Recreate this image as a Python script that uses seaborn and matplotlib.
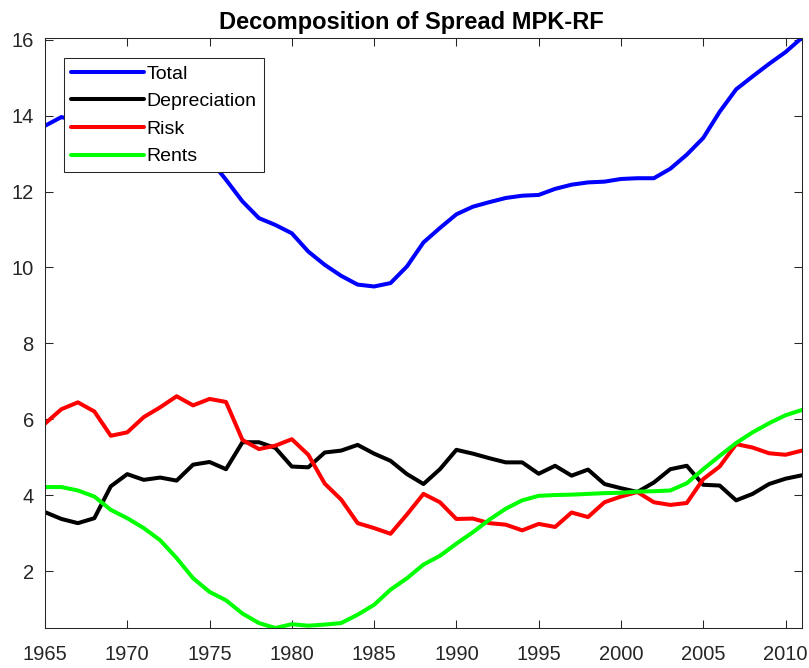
import numpy as np
import pandas as pd
import matplotlib
matplotlib.use("Agg")
import matplotlib.pyplot as plt
import seaborn as sns

# Values, one per year
years = list(range(1965, 2012))

total = [13.73, 13.96, 13.85, 13.58, 13.43, 13.62, 13.61, 13.61, 13.35, 13.00,
         12.85, 12.31, 11.74, 11.30, 11.12, 10.90, 10.42, 10.07, 9.78, 9.55,
         9.50, 9.59, 10.03, 10.66, 11.04, 11.40, 11.60, 11.72, 11.83, 11.89,
         11.91, 12.07, 12.18, 12.24, 12.26, 12.33, 12.35, 12.35, 12.60, 12.97,
         13.41, 14.10, 14.69, 15.03, 15.36, 15.67, 16.05]

depreciation = [3.56, 3.38, 3.27, 3.40, 4.24, 4.56, 4.41, 4.47, 4.39, 4.81,
                4.88, 4.69, 5.40, 5.40, 5.25, 4.76, 4.74, 5.13, 5.18, 5.33,
                5.10, 4.91, 4.56, 4.30, 4.69, 5.20, 5.10, 4.98, 4.87, 4.87,
                4.57, 4.78, 4.52, 4.68, 4.30, 4.19, 4.09, 4.34, 4.69, 4.78,
                4.28, 4.26, 3.87, 4.04, 4.30, 4.44, 4.53]

risk = [5.89, 6.27, 6.45, 6.21, 5.57, 5.66, 6.06, 6.32, 6.61, 6.37,
        6.54, 6.46, 5.46, 5.22, 5.31, 5.48, 5.07, 4.31, 3.89, 3.27,
        3.14, 2.99, 3.50, 4.04, 3.82, 3.38, 3.39, 3.27, 3.23, 3.08,
        3.25, 3.17, 3.55, 3.43, 3.82, 3.97, 4.09, 3.82, 3.75, 3.80,
        4.43, 4.76, 5.35, 5.26, 5.11, 5.07, 5.18]

rents = [4.22, 4.22, 4.13, 3.97, 3.62, 3.40, 3.14, 2.82, 2.35, 1.82,
         1.46, 1.24, 0.89, 0.64, 0.51, 0.61, 0.57, 0.60, 0.64, 0.86,
         1.12, 1.52, 1.82, 2.18, 2.41, 2.73, 3.03, 3.36, 3.65, 3.87,
         3.99, 4.01, 4.02, 4.04, 4.06, 4.07, 4.10, 4.11, 4.13, 4.32,
         4.69, 5.04, 5.38, 5.66, 5.90, 6.11, 6.25]

series_names = ["Total", "Depreciation", "Risk", "Rents"]
series_colors = ["#0000ff", "#000000", "#ff0000", "#00ff00"]

df = pd.DataFrame({"year": years, "Total": total, "Depreciation": depreciation,
                   "Risk": risk, "Rents": rents})
long_df = df.melt(id_vars="year", var_name="component", value_name="value")

sns.set_theme(style="white")
plt.rcParams["font.family"] = ["Liberation Sans", "DejaVu Sans"]

fig = plt.figure(figsize=(8.09, 6.68), dpi=100)
ax = fig.add_axes([0.0556, 0.0599, 0.9357, 0.8837])

sns.lineplot(data=long_df, x="year", y="value", hue="component",
             hue_order=series_names, palette=series_colors,
             linewidth=2.9, ax=ax, legend=False)

ax.set_xlim(1965, 2011)
ax.set_ylim(min(rents), max(total))
ax.set_xticks(range(1965, 2011, 5))
ax.set_yticks(range(2, 17, 2))
ax.set_xlabel("")
ax.set_ylabel("")

gray = "#262626"
for sp in ax.spines.values():
    sp.set_color(gray)
    sp.set_linewidth(0.75)
ax.tick_params(axis="both", direction="in", length=5.5, width=0.75,
               color=gray, labelcolor=gray, labelsize=14.5,
               top=True, right=True, bottom=True, left=True)
ax.tick_params(axis="x", pad=12)
ax.tick_params(axis="y", pad=8)

ax.set_title("Decomposition of Spread MPK-RF", fontsize=17,
             fontweight="bold", color="black", x=0.4835, pad=6)

handles = ax.get_lines()[:4]
leg = ax.legend(handles, series_names, loc="upper left",
                bbox_to_anchor=(0.025, 0.965), fontsize=14,
                frameon=True, fancybox=False, shadow=False,
                handlelength=3.76, handletextpad=0.15, labelspacing=0.51,
                borderpad=0.35, borderaxespad=0.0)
for t in leg.get_texts():
    t.set_color("black")
leg.get_frame().set_edgecolor(gray)
leg.get_frame().set_linewidth(0.75)
leg.get_frame().set_alpha(1)

fig.savefig("out.png", dpi=100)
